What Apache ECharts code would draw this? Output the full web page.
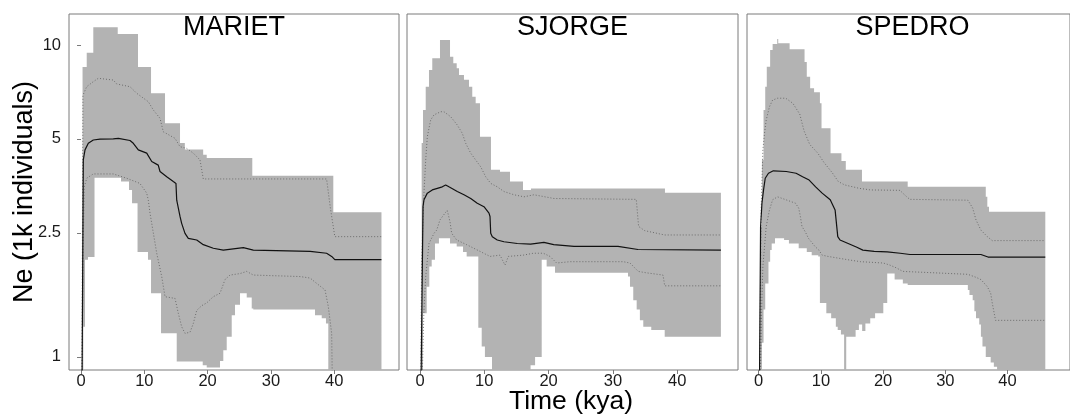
<!DOCTYPE html>
<html>
<head>
<meta charset="utf-8">
<script src="https://cdn.jsdelivr.net/npm/echarts@6/dist/echarts.min.js"></script>
<style>
  html, body { margin: 0; padding: 0; background: #ffffff; }
  #chart { width: 1070px; height: 419px; }
</style>
</head>
<body>
<div id="chart"></div>
<script>
// Bayesian skyline reconstructions, Ne in thousands of individuals vs time (kya)
const populations = ['MARIET', 'SJORGE', 'SPEDRO'];
const xTickValues = [0, 10, 20, 30, 40];
const yTickValues = [1, 2.5, 5, 10];

// 95% interval edges, stepwise: each [time, Ne] holds until the next time
const marietUpper95 = [[0,0.5],[0.24,8.5],[0.9,9.45],[1.94,11.4],[5.8,10.85],[9.0,8.5],[11.06,7.0],[13.27,5.61],[15.64,4.85],[16.4,4.62],[19.3,4.45],[19.86,4.34],[27.06,3.81],[39.86,2.91],[47.47,2.91]];
const marietLower95 = [[0,0.5],[0.36,1.25],[0.63,2.05],[1.1,2.09],[2.13,3.75],[6.32,3.65],[7.58,3.43],[8.06,3.11],[8.93,2.17],[10.58,2.05],[11.06,1.6],[12.64,1.19],[15.12,0.966],[19.23,0.94],[19.86,0.925],[21.96,0.97],[22.48,1.05],[23.02,1.16],[23.81,1.36],[24.33,1.47],[25.12,1.6],[26.18,1.55],[26.97,1.43],[27.22,1.42],[36.97,1.36],[38.03,1.33],[38.7,1.28],[39.07,0.5],[47.47,0.5]];
// 50% interval edges and median
const marietUpper50 = [[0.1,0.5],[0.3,6.9],[0.9,7.35],[1.94,7.63],[2.73,7.82],[5.1,7.72],[5.64,7.5],[7.74,7.35],[8.8,7.0],[10.63,6.58],[11.42,6.19],[12.48,5.82],[13.0,5.27],[14.85,5.02],[15.64,4.72],[16.7,4.66],[17.74,4.5],[18.8,4.28],[19.1,4.28],[19.32,3.72],[38.8,3.72],[39.4,3.0],[40.1,2.43],[47.47,2.43]];
const marietLower50 = [[0.1,0.5],[0.3,2.0],[0.5,3.5],[0.9,3.74],[1.94,3.86],[5.1,3.86],[7.2,3.74],[9.3,3.6],[10.38,3.35],[10.63,3.18],[10.9,2.89],[11.96,2.15],[12.75,1.81],[13.27,1.56],[14.85,1.54],[15.37,1.38],[15.9,1.25],[16.43,1.19],[17.22,1.2],[17.74,1.28],[18.28,1.41],[19.07,1.46],[19.86,1.49],[20.9,1.56],[21.96,1.6],[22.75,1.77],[23.54,1.83],[25.12,1.85],[26.18,1.88],[27.22,1.83],[34.6,1.81],[36.2,1.79],[37.24,1.72],[38.55,1.64],[39.07,1.45],[39.6,1.19],[39.86,0.5],[47.47,0.5]];
const marietMedian = [[0.1,0.5],[0.36,4.28],[0.63,4.61],[1.15,4.84],[1.94,4.96],[3.0,4.99],[5.1,5.0],[5.9,5.02],[7.74,4.94],[8.26,4.84],[9.05,4.61],[10.38,4.5],[11.17,4.23],[12.2,4.12],[12.48,3.93],[13.54,3.78],[14.58,3.65],[15.0,3.6],[15.12,3.18],[15.64,2.82],[15.9,2.68],[16.43,2.49],[16.95,2.4],[18.28,2.37],[19.32,2.29],[20.9,2.23],[22.48,2.2],[24.06,2.22],[25.64,2.24],[27.22,2.2],[36.2,2.18],[38.8,2.15],[39.6,2.1],[40.1,2.05],[47.47,2.05]];

const sjorgeUpper95 = [[0,0.5],[0.26,4.85],[0.47,6.19],[0.89,7.35],[1.4,8.32],[1.91,9.07],[3.11,10.37],[4.67,9.17],[5.18,8.74],[5.71,8.42],[6.07,8.02],[6.84,7.73],[7.62,7.35],[8.13,6.83],[8.66,6.5],[9.33,5.08],[11.04,3.98],[12.44,3.92],[14.0,3.65],[16.02,3.43],[17.26,3.47],[38.1,3.36],[46.8,3.36]];
const sjorgeLower95 = [[0,0.5],[0.47,1.38],[1.04,1.68],[1.45,1.95],[1.82,2.05],[2.33,2.31],[2.95,2.4],[4.67,2.31],[5.71,2.26],[6.69,2.17],[7.26,2.1],[9.07,1.24],[9.6,1.08],[10.1,1.0],[11.2,0.5],[17.2,0.94],[17.9,1.0],[18.93,2.05],[19.7,1.95],[21.0,1.86],[32.35,1.81],[32.66,1.68],[33.17,1.52],[33.7,1.42],[34.2,1.31],[34.73,1.25],[35.97,1.22],[38.06,1.16],[46.8,1.16]];
const sjorgeUpper50 = [[0.05,0.5],[0.25,2.0],[0.62,3.35],[0.89,4.28],[1.14,5.08],[1.66,5.75],[2.18,5.97],[3.22,6.11],[3.73,6.11],[4.77,5.89],[5.8,5.54],[6.58,5.21],[7.11,4.84],[7.89,4.5],[8.66,4.28],[9.44,4.07],[10.22,3.78],[11.0,3.6],[12.02,3.51],[13.06,3.39],[14.62,3.31],[16.17,3.26],[17.73,3.31],[20.84,3.22],[33.64,3.2],[34.0,2.62],[34.95,2.54],[38.06,2.46],[46.8,2.46]];
const sjorgeLower50 = [[0.05,0.5],[0.62,1.42],[0.89,1.81],[1.4,2.31],[2.18,2.49],[2.6,2.55],[3.11,2.75],[3.89,2.89],[4.24,2.95],[4.67,2.71],[4.93,2.49],[5.71,2.37],[7.26,2.29],[9.33,2.18],[10.89,2.1],[12.44,2.12],[13.22,1.97],[13.74,2.1],[16.07,2.12],[17.63,2.15],[19.18,2.15],[20.22,2.1],[21.25,2.0],[23.33,2.02],[31.6,2.02],[32.66,2.0],[33.95,1.88],[35.25,1.86],[37.8,1.83],[38.06,1.69],[46.8,1.69]];
const sjorgeMedian = [[0.05,0.5],[0.47,3.03],[0.62,3.19],[1.14,3.35],[1.91,3.43],[2.7,3.47],[3.47,3.51],[3.99,3.56],[4.5,3.51],[5.8,3.39],[6.84,3.31],[7.89,3.22],[8.91,3.11],[9.95,3.03],[10.73,2.89],[10.89,2.82],[11.0,2.49],[11.25,2.43],[12.02,2.37],[13.06,2.34],[15.13,2.31],[17.2,2.3],[19.27,2.33],[20.8,2.29],[23.95,2.26],[30.8,2.26],[33.9,2.21],[46.8,2.2]];

const spedroUpper95 = [[0,0.5],[0.27,2.62],[0.52,4.28],[0.78,6.19],[1.05,7.35],[1.3,8.52],[1.84,9.64],[2.24,10.07],[2.98,10.45],[3.14,10.13],[4.97,9.69],[7.37,8.82],[7.73,7.91],[8.27,7.26],[8.9,7.05],[9.84,6.5],[10.1,5.41],[11.55,4.5],[13.3,4.25],[14.0,3.98],[16.6,3.65],[23.95,3.51],[36.5,3.26],[36.75,3.03],[37.02,2.92],[46.07,2.92]];
const spedroLower95 = [[0,0.5],[0.52,1.11],[0.78,1.42],[1.05,1.72],[1.57,2.02],[1.84,2.2],[2.09,2.31],[2.62,2.4],[4.08,2.37],[4.86,2.31],[6.43,2.23],[7.73,2.17],[8.52,2.12],[9.57,2.1],[9.84,1.49],[10.87,1.38],[11.65,1.33],[12.4,1.25],[12.7,1.22],[13.22,1.18],[13.73,0.5],[14.07,1.16],[15.58,1.22],[16.11,1.27],[16.63,1.21],[17.15,1.28],[17.93,1.33],[18.71,1.38],[20.03,1.49],[20.66,1.85],[21.85,1.77],[23.17,1.72],[23.95,1.7],[33.62,1.64],[33.88,1.58],[34.4,1.52],[34.67,1.4],[34.93,1.33],[35.45,1.27],[35.72,1.16],[35.97,1.08],[36.5,1.0],[37.29,0.96],[37.8,0.93],[38.32,0.5],[46.07,0.5]];
const spedroUpper50 = [[0.05,0.5],[0.4,3.0],[0.67,4.61],[0.94,5.22],[1.21,5.75],[1.73,6.34],[2.24,6.66],[3.03,6.75],[4.35,6.75],[5.5,6.5],[6.6,6.0],[7.3,5.3],[8.2,4.8],[9.5,4.5],[10.5,4.2],[11.8,3.9],[12.8,3.65],[13.8,3.56],[16.2,3.47],[18.0,3.43],[22.7,3.42],[23.8,3.26],[24.3,3.2],[33.62,3.18],[34.4,3.0],[34.93,2.75],[35.72,2.55],[36.75,2.43],[37.54,2.36],[46.07,2.36]];
const spedroLower50 = [[0.05,0.5],[0.5,1.5],[0.67,1.95],[1.21,2.62],[1.73,2.96],[2.24,3.19],[3.03,3.26],[3.81,3.22],[5.91,3.11],[6.43,3.0],[6.7,2.82],[6.95,2.62],[7.48,2.52],[8.0,2.4],[9.05,2.26],[9.68,2.2],[10.2,2.12],[11.14,2.1],[14.27,2.05],[16.36,2.02],[20.03,2.0],[21.07,1.97],[22.12,1.93],[23.17,1.88],[33.62,1.84],[34.93,1.8],[35.72,1.77],[36.75,1.68],[37.29,1.6],[37.54,1.49],[38.07,1.31],[46.07,1.31]];
const spedroMedian = [[0.05,0.5],[0.3,2.6],[0.52,3.11],[0.78,3.43],[1.05,3.74],[1.57,3.88],[2.35,3.95],[4.44,3.93],[6.01,3.88],[7.06,3.78],[8.11,3.69],[9.15,3.51],[10.2,3.35],[11.5,3.19],[12.28,2.96],[12.55,2.92],[12.71,2.43],[13.07,2.37],[14.38,2.31],[15.69,2.25],[16.74,2.2],[18.56,2.18],[20.66,2.17],[22.75,2.15],[24.31,2.13],[35.72,2.13],[36.86,2.09],[46.07,2.09]];

const panelData = [
  { upper95: marietUpper95, lower95: marietLower95, upper50: marietUpper50, lower50: marietLower50, median: marietMedian },
  { upper95: sjorgeUpper95, lower95: sjorgeLower95, upper50: sjorgeUpper50, lower50: sjorgeLower50, median: sjorgeMedian },
  { upper95: spedroUpper95, lower95: spedroLower95, upper50: spedroUpper50, lower50: spedroLower50, median: spedroMedian }
];

// Panel geometry (pixels) and per-panel time range (free x scales)
const panelLayout = [
  { left: 69,  width: 330, xMin: -1.90, xMax: 50.24 },
  { left: 407, width: 331, xMin: -2.02, xMax: 49.46 },
  { left: 747, width: 331, xMin: -1.88, xMax: 50.04 }
];
const PANEL_TOP = 14, PANEL_HEIGHT = 356;
const Y_MIN = 0.908, Y_MAX = 12.57;
const FONT = '"Liberation Sans", Arial, Helvetica, sans-serif';
const FRAME = '#7a7a7a';

// Expand a step list into the corner points of a staircase
function staircase(steps) {
  const pts = [];
  for (let i = 0; i < steps.length - 1; i++) {
    pts.push([steps[i][0], steps[i][1]]);
    pts.push([steps[i + 1][0], steps[i][1]]);
  }
  return pts;
}

const grids = [], xAxes = [], yAxes = [], series = [], graphics = [];

panelLayout.forEach((p, i) => {
  grids.push({
    left: p.left, top: PANEL_TOP, width: p.width, height: PANEL_HEIGHT,
    show: true, borderColor: FRAME, borderWidth: 1, backgroundColor: 'transparent'
  });
  xAxes.push({
    type: 'value', gridIndex: i, min: p.xMin, max: p.xMax,
    axisLine: { show: false },
    splitLine: { show: false },
    axisTick: { show: true, length: 4, inside: false, customValues: xTickValues, lineStyle: { color: FRAME, width: 1 } },
    axisLabel: { customValues: xTickValues, fontSize: 16.5, color: '#1a1a1a', fontFamily: FONT, margin: 3,
      formatter: v => String(v) }
  });
  yAxes.push({
    type: 'log', logBase: 10, gridIndex: i, min: Y_MIN, max: Y_MAX,
    axisLine: { show: false },
    splitLine: { show: false },
    axisTick: { show: i === 0, length: 4, customValues: yTickValues, lineStyle: { color: FRAME, width: 1 } },
    axisLabel: { show: i === 0, customValues: yTickValues, fontSize: 16.5, color: '#1a1a1a', fontFamily: FONT, margin: 8,
      formatter: v => String(+(+v).toPrecision(3)) }
  });

  const d = panelData[i];
  const band = staircase(d.upper95).concat(staircase(d.lower95).reverse());
  series.push({
    type: 'custom', xAxisIndex: i, yAxisIndex: i, clip: true, silent: true,
    data: [[0, 1]],
    renderItem: (params, api) => ({
      type: 'polygon',
      shape: { points: band.map(pt => api.coord(pt)) },
      style: { fill: '#b3b3b3', stroke: null }
    }),
    z: 1
  });
  [d.upper50, d.lower50].forEach(line => {
    series.push({
      type: 'line', xAxisIndex: i, yAxisIndex: i, data: line, showSymbol: false, symbol: 'none',
      clip: true, silent: true,
      lineStyle: { color: '#5a5a5a', width: 0.8, type: [1, 2] }, z: 2
    });
  });
  series.push({
    type: 'line', xAxisIndex: i, yAxisIndex: i, data: d.median, showSymbol: false, symbol: 'none',
    clip: true, silent: true,
    lineStyle: { color: '#111111', width: 1.2 }, z: 3
  });

  graphics.push({
    type: 'text', left: null, x: p.left + p.width / 2, y: 28,
    style: { text: populations[i], fill: '#000', font: '27px ' + FONT, textAlign: 'center', textVerticalAlign: 'middle' },
    z: 10
  });
});

graphics.push({
  type: 'text', x: 25, y: 192, rotation: Math.PI / 2,
  style: { text: 'Ne (1k individuals)', fill: '#000', font: '27px ' + FONT, textAlign: 'center', textVerticalAlign: 'middle' }
});
graphics.push({
  type: 'text', x: 571, y: 402,
  style: { text: 'Time (kya)', fill: '#000', font: '26.5px ' + FONT, textAlign: 'center', textVerticalAlign: 'middle' }
});

const chart = echarts.init(document.getElementById('chart'), null, { renderer: 'canvas' });
chart.setOption({
  animation: false,
  backgroundColor: '#ffffff',
  grid: grids,
  xAxis: xAxes,
  yAxis: yAxes,
  series: series,
  graphic: graphics
});
</script>
</body>
</html>
